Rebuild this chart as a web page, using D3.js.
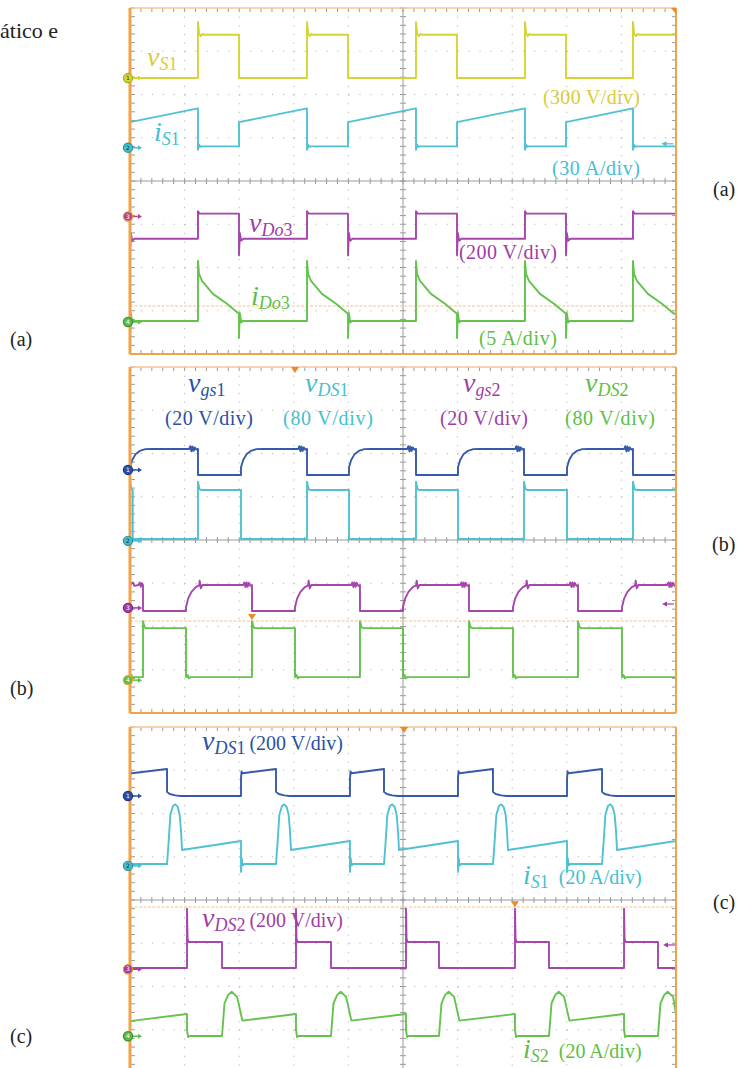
<!DOCTYPE html>
<html><head><meta charset="utf-8">
<script src="https://cdn.jsdelivr.net/npm/d3@7/dist/d3.min.js"></script>
<style>html,body{margin:0;padding:0;background:#fff;}svg{display:block;}</style>
</head><body>
<svg id="fig" width="755" height="1068" xmlns="http://www.w3.org/2000/svg"></svg>
<script>
// ---------------- DATA (time in divisions 0..10, amplitude in divisions -4..4) ----------------
// Template points: [anchor, dt, value]; anchor 's' = dt after segment start, 'e' = dt before segment end.

// ----- Panel (a) -----
const edgesA = [1.245, 1.996, 3.242, 3.993, 5.238, 5.989, 7.234, 7.985, 9.212];
const vS1_lo  = [['s',0,2.38],['e',0,2.38]];
const vS1_hi  = [['s',0,3.68],['s',0.02,3.42],['s',0.05,3.35],['s',0.08,3.40],['s',0.12,3.38],['e',0,3.38]];
const iS1a_ramp = [['s',0,1.36],['e',0,1.68]];
const iS1a_lo   = [['s',0,0.72],['s',0.02,0.84],['s',0.04,0.79],['s',0.07,0.80],['e',0,0.80]];
const vDo3_lo = [['s',0,-1.72],['s',0.015,-1.2],['s',0.04,-1.38],['s',0.08,-1.334],['e',0,-1.334]];
const vDo3_hi = [['s',0,-0.70],['s',0.03,-0.754],['e',0,-0.754]];
const iDo3_lo = [['s',0,-3.63],['s',0.015,-3.05],['s',0.04,-3.27],['s',0.07,-3.237],['e',0,-3.237]];
const iDo3_hi = [['s',0,-1.85],['s',0.02,-2.15],['s',0.073,-2.31],['s',0.274,-2.61],['s',0.531,-2.84],['s',0.751,-3.07],['e',0,-3.07]];
const markersA = [2.38, 0.77, -0.82, -3.26];
const trigLineA = -2.89;

// ----- Panel (b) -----
const edgesB1 = [1.245, 2.033, 3.242, 4.011, 5.238, 6.007, 7.216, 8.004, 9.212];
const edgesB1c = [0.05, 1.245, 2.033, 3.242, 4.011, 5.238, 6.007, 7.216, 8.004, 9.212];
const edgesB2 = [0.238, 1.026, 2.234, 3.022, 4.212, 5.0, 6.209, 7.015, 8.205, 9.011];
const gs1_hi = [['s',0,1.68],['s',0.04,1.85],['s',0.1,1.98],['s',0.18,2.06],['s',0.28,2.10],['s',0.4,2.105],
                ['e',0.16,2.105],['e',0.14,2.17],['e',0.12,2.05],['e',0.10,2.16],['e',0.08,2.06],['e',0.06,2.14],['e',0.03,2.09],['e',0,2.105]];
const gs1_lo = [['s',0,1.503],['e',0,1.503]];
const ds1b_hi = [['s',0,1.35],['s',0.03,1.17],['s',0.06,1.157],['e',0,1.157]];
const ds1b_lo = [['s',0,0.023],['e',0,0.023]];
const gs2_first = [['s',0,-1.04],['s',0.05,-0.98],['s',0.08,-1.06],['e',0.08,-1.04],['e',0.06,-0.98],['e',0.04,-1.08],['e',0.02,-1.0],['e',0,-1.04]];
const gs2_hi = [['s',0,-1.55],['s',0.04,-1.35],['s',0.1,-1.2],['s',0.18,-1.09],['s',0.24,-1.05],['s',0.25,-0.94],['s',0.27,-1.12],['s',0.30,-1.04],
                ['e',0.16,-1.04],['e',0.14,-0.98],['e',0.12,-1.09],['e',0.10,-0.98],['e',0.08,-1.08],['e',0.06,-0.99],['e',0.03,-1.06],['e',0,-1.04]];
const gs2_lo = [['s',0,-1.64],['e',0,-1.64]];
const ds2b_hi = [['s',0,-1.88],['s',0.03,-2.02],['s',0.06,-2.037],['e',0,-2.037]];
const ds2b_lo = [['s',0,-3.17],['s',0.03,-3.12],['s',0.05,-3.2],['s',0.08,-3.17],['e',0,-3.17]];
const markersB = [1.62, -0.02, -1.57, -3.24];
const trigLineB = -1.873;

// ----- Panel (c) -----
const edgesC1 = [0.678, 2.033, 2.674, 4.029, 4.652, 6.007, 6.648, 8.004, 8.645];
const edgesC2 = [1.044, 1.685, 3.04, 3.681, 5.055, 5.659, 7.051, 7.674, 9.048, 9.67];
const ds1c_hi = [['s',0,2.80],['s',0.01,2.97],['s',0.03,2.93],['e',0,3.03]];
const ds1c_lo = [['s',0,2.50],['s',0.05,2.45],['s',0.15,2.42],['s',0.25,2.405],['e',0,2.405]];
const is1c_first = [['s',0,0.832],['e',0,0.832]];
const is1c_lo = [['s',0,0.65],['s',0.012,0.97],['s',0.03,0.80],['s',0.06,0.832],['e',0,0.832]];
const is1c_hump = [['s',0,0.826],['s',0.03,1.35],['s',0.061,1.965],['s',0.110,2.18],['s',0.152,2.21],['s',0.195,2.155],
                   ['s',0.232,1.965],['s',0.257,1.58],['s',0.275,1.156],['e',0,1.364]];
const ds2c_hi = [['s',0,-0.2],['s',0.01,-0.9],['s',0.03,-0.971],['e',0,-0.971]];
const ds2c_lo = [['s',0,-1.572],['e',0,-1.572]];
const is2c_first = [['s',0,-2.80],['e',0,-2.636]];
const is2c_hump = [['s',0,-3.145],['s',0.046,-2.39],['s',0.112,-2.2],['s',0.178,-2.12],['s',0.277,-2.24],['s',0.374,-2.79],['e',0,-2.636]];
const is2c_lo = [['s',0,-3.0],['s',0.02,-3.17],['s',0.05,-3.145],['e',0,-3.145]];
const markersC = [2.405, 0.79, -1.6, -3.15];
const trigLineC = -0.162;

// ---------------- COLOURS ----------------
const YEL='#d3d22a', YEL_T='#dccb3a', CYA='#45bfd0', PUR='#a03ca6', GRN='#5cbf44', BLU='#2a50a6', ORA='#f2a24a';

// ---------------- DRAWING ----------------
const svg = d3.select('#fig');
const X0=130, X1=676, PH=346;
const panelTops=[8,367,727];
const FONT='Liberation Serif';

function buildPoints(tr){
  const b=[0,...tr.edges,10]; const pts=[]; let st=tr.start;
  for(let k=0;k<b.length-1;k++){
    const ts=b[k], te=b[k+1];
    const tpl=(k===0&&tr.first)?tr.first:tr.seg[st];
    const seg=tpl.map(([a,dt,v])=>[a==='s'?ts+dt:te-dt,v]).filter(p=>p[0]>=ts-1e-9&&p[0]<=te+1e-9);
    seg.sort((p,q)=>p[0]-q[0]);
    pts.push(...seg); st=1-st;
  }
  return pts;
}

function drawPanel(idx, traces, markers, markerCols, trig, extras){
  const top=panelTops[idx], bot=top+PH;
  const x=d3.scaleLinear().domain([0,10]).range([X0,X1]);
  const y=d3.scaleLinear().domain([-4,4]).range([bot,top]);
  const g=svg.append('g');
  const cid='clip'+idx;
  svg.append('clipPath').attr('id',cid).append('rect').attr('x',X0).attr('y',top).attr('width',X1-X0).attr('height',PH);
  const dx=x(0.2)-x(0), dy=y(0)-y(0.2);
  d3.range(1,10).filter(d=>d!==5).forEach(d=>{
    g.append('line').attr('x1',x(d)).attr('x2',x(d)).attr('y1',top).attr('y2',bot)
     .attr('stroke','#b5b5b5').attr('stroke-width',1).attr('stroke-dasharray',`1.2,${(dy-1.2).toFixed(2)}`);
  });
  d3.range(-3,4).filter(d=>d!==0).forEach(d=>{
    g.append('line').attr('x1',X0).attr('x2',X1).attr('y1',y(d)).attr('y2',y(d))
     .attr('stroke','#b5b5b5').attr('stroke-width',1).attr('stroke-dasharray',`1.2,${(dx-1.2).toFixed(2)}`);
  });
  g.append('line').attr('x1',x(5)).attr('x2',x(5)).attr('y1',top).attr('y2',bot).attr('stroke','#9a9a9a').attr('stroke-width',1);
  g.append('line').attr('x1',X0).attr('x2',X1).attr('y1',y(0)).attr('y2',y(0)).attr('stroke','#9a9a9a').attr('stroke-width',1);
  const tk=g.append('g').attr('stroke','#9a9a9a').attr('stroke-width',1);
  d3.range(0,50.01,1).map(i=>i*0.2).forEach(t=>{
    const xx=x(t);
    tk.append('line').attr('x1',xx).attr('x2',xx).attr('y1',top).attr('y2',top+4);
    tk.append('line').attr('x1',xx).attr('x2',xx).attr('y1',bot).attr('y2',bot-4);
    tk.append('line').attr('x1',xx).attr('x2',xx).attr('y1',y(0)-3).attr('y2',y(0)+3);
  });
  d3.range(0,40.01,1).map(i=>-4+i*0.2).forEach(v=>{
    const yy=y(v);
    tk.append('line').attr('x1',X0).attr('x2',X0+5).attr('y1',yy).attr('y2',yy);
    tk.append('line').attr('x1',X1).attr('x2',X1-4).attr('y1',yy).attr('y2',yy);
    tk.append('line').attr('x1',x(5)-3).attr('x2',x(5)+3).attr('y1',yy).attr('y2',yy);
  });
  g.append('line').attr('x1',X0).attr('x2',X1).attr('y1',y(trig)).attr('y2',y(trig))
   .attr('stroke','#f6c48e').attr('stroke-width',1.2).attr('stroke-dasharray','3,1.5');
  const line=d3.line().x(d=>x(d[0])).y(d=>y(d[1]));
  const tg=g.append('g').attr('clip-path',`url(#${cid})`);
  traces.forEach(tr=>{
    tg.append('path').attr('d',line(buildPoints(tr))).attr('fill','none').attr('stroke',tr.color)
      .attr('stroke-width',1.9).attr('stroke-linejoin','round').attr('stroke-opacity',0.95);
  });
  g.append('line').attr('x1',X0).attr('x2',X1).attr('y1',top).attr('y2',top).attr('stroke','#f5c496').attr('stroke-width',1.5);
  g.append('line').attr('x1',X0).attr('x2',X1).attr('y1',bot).attr('y2',bot).attr('stroke',ORA).attr('stroke-width',2);
  g.append('line').attr('x1',X1).attr('x2',X1).attr('y1',top).attr('y2',Math.min(bot,1068)).attr('stroke',ORA).attr('stroke-width',2);
  g.append('line').attr('x1',X0).attr('x2',X0).attr('y1',top).attr('y2',Math.min(bot,1068)).attr('stroke',ORA).attr('stroke-width',3);
  markers.forEach((v,i)=>{
    const yy=y(v), c=markerCols[i];
    g.append('line').attr('x1',X0+2).attr('x2',X0+9).attr('y1',yy).attr('y2',yy).attr('stroke',c.fill).attr('stroke-width',1.5);
    g.append('path').attr('d',`M${X0+12},${yy} l-4,-2.5 l0,5 z`).attr('fill',c.fill);
    g.append('circle').attr('cx',X0-2).attr('cy',yy).attr('r',4.6).attr('fill',c.fill).attr('stroke',c.ring).attr('stroke-width',1.2);
    g.append('text').attr('x',X0-2).attr('y',yy+2.2).attr('text-anchor','middle').attr('font-size',6)
      .attr('font-family','DejaVu Sans').attr('fill',c.txt).text(i+1);
  });
  extras(g,x,y,top);
}

function tri(g,cx,cy){ g.append('path').attr('d',`M${cx-4},${cy-3} L${cx+4},${cy-3} L${cx},${cy+3} Z`).attr('fill','#f0882a'); }
function larrow(g,x,y,c){
  g.append('line').attr('x1',x).attr('x2',x+10).attr('y1',y).attr('y2',y).attr('stroke',c).attr('stroke-width',1.2);
  g.append('path').attr('d',`M${x-2},${y} l5,-2.5 l0,5 z`).attr('fill',c);
}

function mlabel(xp,yp,color,parts,tail,big=28,small=18,tsz=20){
  const t=svg.append('text').attr('x',xp).attr('y',yp).attr('fill',color).attr('font-family',FONT);
  let inSub=false;
  parts.forEach(([s,it,sub])=>{
    const sp=t.append('tspan').text(s).attr('font-size',sub?small:big).attr('font-style',it?'italic':'normal').attr('font-family',FONT);
    if(sub&&!inSub){sp.attr('dy',4);inSub=true;}
  });
  if(tail){ t.append('tspan').text(tail).attr('font-size',tsz).attr('font-style','normal').attr('font-family',FONT).attr('dy',inSub?-4:0); }
}
function plabel(xp,yp,color,s,sz=20,w){
  const t=svg.append('text').attr('x',xp).attr('y',yp).attr('fill',color).attr('font-family',FONT).attr('font-size',sz).text(s);
  if(w) t.attr('textLength',w).attr('lengthAdjust','spacing');
}

// Panel (a)
drawPanel(0,[
  {edges:edgesA,start:0,seg:[vS1_lo,vS1_hi],color:YEL},
  {edges:edgesA,start:0,seg:[iS1a_ramp,iS1a_lo],color:CYA},
  {edges:edgesA,start:0,seg:[vDo3_lo,vDo3_hi],color:PUR},
  {edges:edgesA,start:0,seg:[iDo3_lo,iDo3_hi],color:GRN}
], markersA, [
  {fill:'#d6d630',ring:'#a8a820',txt:'#333'},{fill:CYA,ring:'#2e8fa0',txt:'#123'},
  {fill:'#b04a90',ring:'#f0902a',txt:'#fff'},{fill:GRN,ring:'#3d8f2f',txt:'#fff'}], trigLineA,
  (g,x,y,top)=>{ g.append('path').attr('d',`M${X1-5},${top} L${X1},${top} L${X1},${top+6} Z`).attr('fill','#f0882a'); larrow(g,x(9.77),y(0.86),CYA); });

// Panel (b)
drawPanel(1,[
  {edges:edgesB1,start:1,seg:[gs1_lo,gs1_hi],color:BLU},
  {edges:edgesB1c,start:1,seg:[ds1b_lo,ds1b_hi],color:CYA},
  {edges:edgesB2,start:1,seg:[gs2_lo,gs2_hi],first:gs2_first,color:PUR},
  {edges:edgesB2,start:0,seg:[ds2b_lo,ds2b_hi],color:GRN}
], markersB, [
  {fill:BLU,ring:'#1d3a80',txt:'#fff'},{fill:CYA,ring:'#2e8fa0',txt:'#123'},
  {fill:PUR,ring:'#7a2a80',txt:'#fff'},{fill:GRN,ring:'#f0a030',txt:'#fff'}], trigLineB,
  (g,x,y,top)=>{ tri(g,x(3.022),top+3); tri(g,x(2.234),y(-1.78)); larrow(g,x(9.78),y(-1.48),PUR); });

// Panel (c)
drawPanel(2,[
  {edges:edgesC1,start:1,seg:[ds1c_lo,ds1c_hi],color:BLU},
  {edges:edgesC1,start:1,seg:[is1c_hump,is1c_lo],first:is1c_first,color:CYA},
  {edges:edgesC2,start:0,seg:[ds2c_lo,ds2c_hi],color:PUR},
  {edges:edgesC2,start:0,seg:[is2c_hump,is2c_lo],first:is2c_first,color:GRN}
], markersC, [
  {fill:BLU,ring:'#1d3a80',txt:'#fff'},{fill:CYA,ring:'#2e8fa0',txt:'#123'},
  {fill:PUR,ring:'#f0902a',txt:'#fff'},{fill:GRN,ring:'#3d8f2f',txt:'#fff'}], trigLineC,
  (g,x,y,top)=>{ tri(g,x(5.02),top+3); tri(g,x(7.05),y(-0.1)); larrow(g,x(9.8),y(-1.04),PUR); });

// ---------------- LABELS ----------------
mlabel(147,66,YEL_T,[['v',1,0],['S',1,1],['1',0,1]]);
plabel(543,104,YEL_T,'(300 V/div)',20,97);
mlabel(154,141,CYA,[['i',1,0],['S',1,1],['1',0,1]]);
plabel(552,175,CYA,'(30 A/div)',20,88);
mlabel(249,232,PUR,[['v',1,0],['Do',1,1],['3',0,1]]);
plabel(459,259,PUR,'(200 V/div)',20,98);
mlabel(251,305,GRN,[['i',1,0],['Do',1,1],['3',0,1]]);
plabel(479,345,GRN,'(5 A/div)',20,78);
mlabel(188,392,BLU,[['v',1,0],['gs',1,1],['1',0,1]]);
plabel(165,425,BLU,'(20 V/div)',20,88);
mlabel(305,392,CYA,[['v',1,0],['DS',1,1],['1',0,1]]);
plabel(283,425,CYA,'(80 V/div)',20,90);
mlabel(463,392,PUR,[['v',1,0],['gs',1,1],['2',0,1]]);
plabel(440,425,PUR,'(20 V/div)',20,88);
mlabel(585,392,GRN,[['v',1,0],['DS',1,1],['2',0,1]]);
plabel(565,425,GRN,'(80 V/div)',20,90);
mlabel(202,750,BLU,[['v',1,0],['DS',1,1],['1',0,1]],'\u2009(200 V/div)');
mlabel(523,884,CYA,[['i',1,0],['S',1,1],['1',0,1]],'\u2002(20 A/div)');
mlabel(202,927,PUR,[['v',1,0],['DS',1,1],['2',0,1]],'\u2009(200 V/div)');
mlabel(523,1058,GRN,[['i',1,0],['S',1,1],['2',0,1]],'\u2002(20 A/div)');

plabel(0,38,'#222','ático e',22);
plabel(713,196,'#222','(a)',20);
plabel(10,346,'#222','(a)',20);
plabel(712,551,'#222','(b)',20);
plabel(10,695,'#222','(b)',20);
plabel(713,909,'#222','(c)',20);
plabel(10,1043,'#222','(c)',20);
</script>
</body></html>
